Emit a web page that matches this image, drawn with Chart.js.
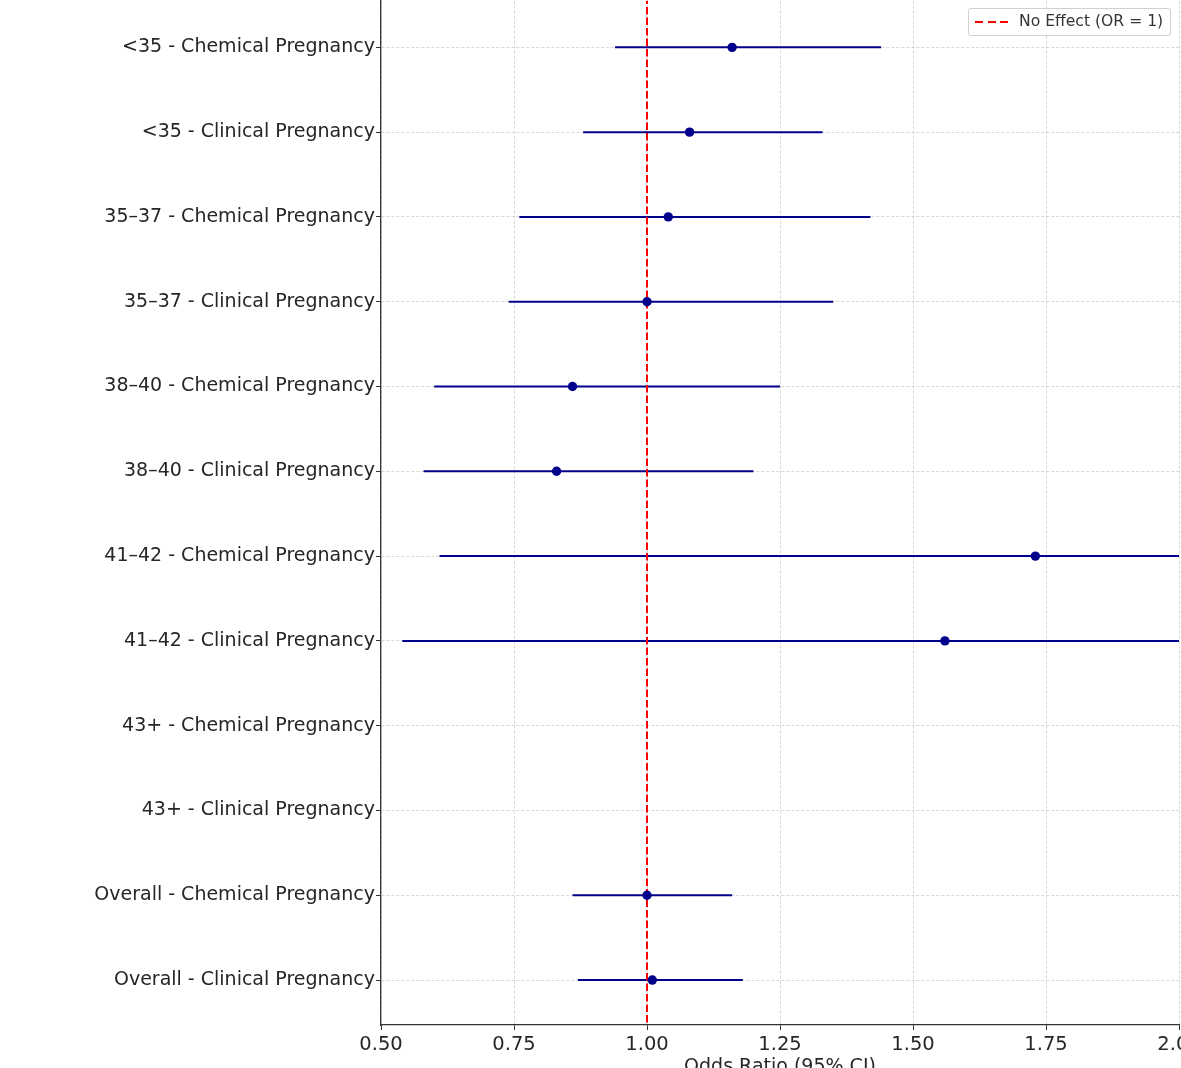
<!DOCTYPE html>
<html>
<head>
<meta charset="utf-8">
<script src="https://cdn.jsdelivr.net/npm/chart.js@4"></script>
<style>
 html,body{margin:0;padding:0;background:#fff;overflow:hidden;width:1181px;height:1068px;}
 #wrap{position:absolute;left:0;top:-4px;width:1240px;height:1089px;}
 #legend{position:absolute;left:968px;top:8px;width:201px;height:26px;border:1px solid #d0d0d0;border-radius:3px;background:rgba(255,255,255,0.85);font-family:"DejaVu Sans";font-size:15.6px;color:#333;}
 #legend .sw{position:absolute;left:6px;top:12px;width:33px;height:2px;background:repeating-linear-gradient(to right,red 0 8px,transparent 8px 12.5px);}
 #legend .tx{position:absolute;left:50px;top:3px;white-space:nowrap;}
</style>
</head>
<body>
<div id="wrap"><canvas id="c"></canvas></div>
<div id="legend"><div class="sw"></div><div class="tx">No Effect (OR = 1)</div></div>
<script>
const labels=["<35 - Chemical Pregnancy","<35 - Clinical Pregnancy","35–37 - Chemical Pregnancy","35–37 - Clinical Pregnancy",
 "38–40 - Chemical Pregnancy","38–40 - Clinical Pregnancy","41–42 - Chemical Pregnancy","41–42 - Clinical Pregnancy",
 "43+ - Chemical Pregnancy","43+ - Clinical Pregnancy","Overall - Chemical Pregnancy","Overall - Clinical Pregnancy"];
const oddsRatio=[1.16,1.08,1.04,1.00,0.86,0.83,1.73,1.56,null,null,1.00,1.01];
const ciLow=[0.94,0.88,0.76,0.74,0.60,0.58,0.61,0.54,null,null,0.86,0.87];
const ciHigh=[1.44,1.33,1.42,1.35,1.25,1.20,4.90,4.50,null,null,1.16,1.18];
const xTicks=[0.5,0.75,1.0,1.25,1.5,1.75,2.0];

const navy="#00008b";
const pts=[];
oddsRatio.forEach((v,i)=>{if(v!==null)pts.push({x:v,y:i});});

// horizontal CI segments drawn through the chart's scales
const ciBars={
 id:"ciBars",
 beforeDatasetsDraw(chart){
  const {ctx,chartArea:a,scales:{x,y}}=chart;
  ctx.save();
  ctx.beginPath();ctx.rect(a.left,a.top,a.right-a.left,a.bottom-a.top);ctx.clip();
  ctx.strokeStyle=navy;ctx.lineWidth=2;
  ciLow.forEach((lo,i)=>{
   if(lo===null)return;
   const py=y.getPixelForValue(i);
   ctx.beginPath();
   ctx.moveTo(x.getPixelForValue(lo),py);
   ctx.lineTo(x.getPixelForValue(ciHigh[i]),py);
   ctx.stroke();
  });
  ctx.restore();
 }
};

Chart.defaults.font.family="DejaVu Sans";
Chart.defaults.color="#262626";

const gridOpts={color:"rgba(190,190,190,0.6)",tickLength:5,tickColor:"#333",tickBorderDash:[],tickWidth:1};

new Chart(document.getElementById("c"),{
 type:"scatter",
 data:{datasets:[
  {label:"Odds Ratio",data:pts,pointRadius:4.7,pointHoverRadius:4.7,backgroundColor:navy,borderColor:navy,borderWidth:0},
  {label:"No Effect (OR = 1)",data:[{x:1,y:-0.6},{x:1,y:11.6}],showLine:true,pointRadius:0,borderColor:"red",borderWidth:2,borderDash:[7.5,3]}
 ]},
 options:{
  responsive:true,maintainAspectRatio:false,animation:false,devicePixelRatio:1,
  layout:{padding:{left:0,right:61,top:0,bottom:0}},
  plugins:{legend:{display:false},tooltip:{enabled:false}},
  scales:{
   x:{
    type:"linear",min:0.5,max:2.0,
    afterBuildTicks(s){s.ticks=xTicks.map(v=>({value:v}));},
    afterFit(s){s.height=60;s.paddingLeft=0;s.paddingRight=0;},
    ticks:{font:{size:19.5},padding:3,maxRotation:0,autoSkip:false,callback:v=>Number(v).toFixed(2)},
    grid:gridOpts,
    border:{display:true,color:"#333",width:1.3,dash:[3,2]},
    title:{display:true,text:"Odds Ratio (95% CI)",font:{size:19},padding:{top:0,bottom:7}}
   },
   y:{
    type:"linear",min:-0.55,max:11.53,reverse:true,
    afterBuildTicks(s){s.ticks=labels.map((_,i)=>({value:i}));},
    afterFit(s){s.width=381;s.paddingTop=0;s.paddingBottom=0;},
    ticks:{font:{size:19},padding:1,autoSkip:false,callback:v=>labels[v]},
    grid:gridOpts,
    border:{display:true,color:"#333",width:1.3,dash:[3,2]}
   }
  }
 },
 plugins:[ciBars]
});
</script>
</body>
</html>
